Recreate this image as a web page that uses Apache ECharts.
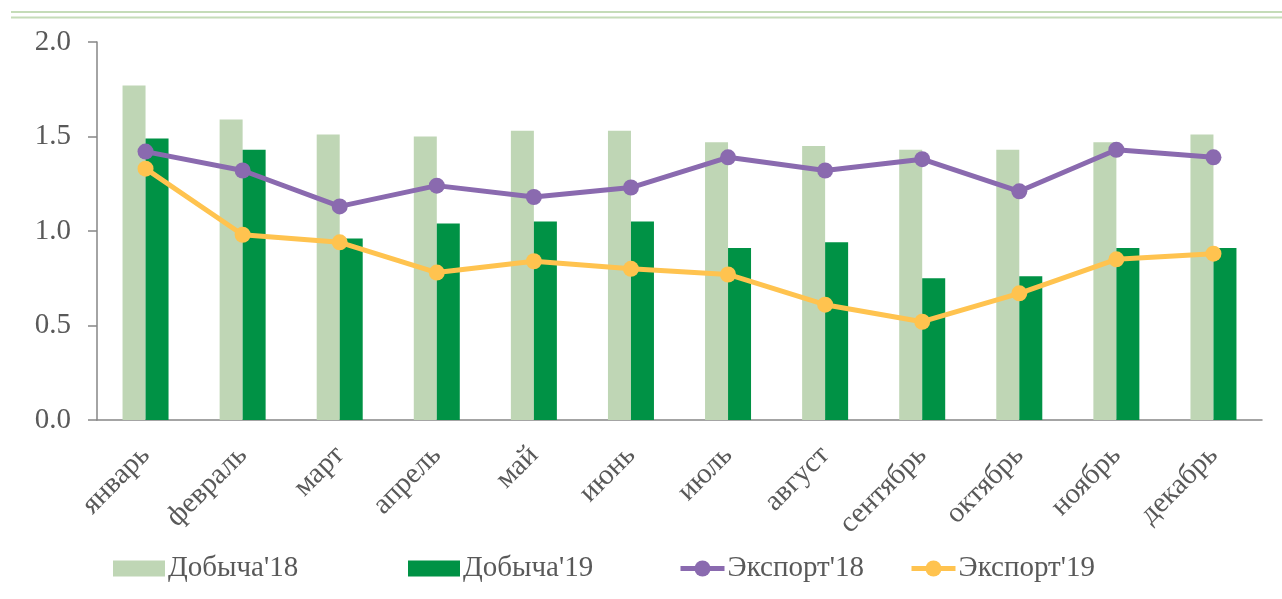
<!DOCTYPE html>
<html>
<head>
<meta charset="utf-8">
<script src="https://cdn.jsdelivr.net/npm/echarts@6/dist/echarts.min.js"></script>
<style>
  html, body { margin: 0; padding: 0; background: #fff; }
  #chart { width: 1282px; height: 599px; }
</style>
</head>
<body>
<div id="chart"></div>
<script>
var months = ['январь', 'февраль', 'март', 'апрель', 'май', 'июнь', 'июль', 'август', 'сентябрь', 'октябрь', 'ноябрь', 'декабрь'];
var dobycha18 = [1.77, 1.59, 1.51, 1.50, 1.53, 1.53, 1.47, 1.45, 1.43, 1.43, 1.47, 1.51];
var dobycha19 = [1.49, 1.43, 0.96, 1.04, 1.05, 1.05, 0.91, 0.94, 0.75, 0.76, 0.91, 0.91];
var export18 = [1.42, 1.32, 1.13, 1.24, 1.18, 1.23, 1.39, 1.32, 1.38, 1.21, 1.43, 1.39];
var export19 = [1.33, 0.98, 0.94, 0.78, 0.84, 0.80, 0.77, 0.61, 0.52, 0.67, 0.85, 0.88];
var yTicks = [0, 0.5, 1.0, 1.5, 2.0];

var font = 'Liberation Serif';
var txt = '#595959';
var axisGray = '#868686';
var purple = '#8a6aaf';
var yellow = '#ffc34f';

var chart = echarts.init(document.getElementById('chart'));

// one legend per item so each can sit where the original has it
function leg(name, left, w, h, icon, lineW) {
    var l = {
        data: [{ name: name, icon: icon }], left: left, top: 549, itemWidth: w, itemHeight: h, itemGap: 0,
        textStyle: { fontFamily: font, fontSize: 29, color: txt, padding: [0, 0, 0, -2] }
    };
    if (lineW) l.lineStyle = { width: lineW };
    return l;
}

var option = {
    animation: false,
    grid: { left: 97, right: 20, top: 42, bottom: 179 },
    graphic: [
        { type: 'line', shape: { x1: 11, y1: 12, x2: 1282, y2: 12 }, style: { stroke: '#c5dcb8', lineWidth: 2 } },
        { type: 'line', shape: { x1: 11, y1: 17.5, x2: 1282, y2: 17.5 }, style: { stroke: '#c5dcb8', lineWidth: 2 } }
    ],
    legend: [
        leg("Добыча'18", 108, 52, 16, 'rect'),
        leg("Добыча'19", 403, 52, 16, 'rect'),
        leg("Экспорт'18", 673, 44, 20, undefined, 5),
        leg("Экспорт'19", 904, 44, 20, undefined, 5)
    ],
    xAxis: {
        type: 'category',
        data: months,
        axisLine: { lineStyle: { color: axisGray, width: 1.5 } },
        axisTick: { alignWithLabel: true, length: 7, lineStyle: { color: axisGray, width: 1.5 } },
        axisLabel: { rotate: 45, margin: 31, fontFamily: font, fontSize: 29, color: txt, interval: 0 }
    },
    yAxis: {
        type: 'value',
        min: yTicks[0],
        max: yTicks[yTicks.length - 1],
        interval: 0.5,
        splitLine: { show: false },
        axisLine: { show: true, lineStyle: { color: axisGray, width: 1.5 } },
        axisTick: { show: true, length: 9, lineStyle: { color: axisGray, width: 1.5 } },
        axisLabel: {
            margin: 26, fontFamily: font, fontSize: 29, color: txt,
            formatter: function (v) { return v.toFixed(1); }
        }
    },
    series: [
        { name: "Добыча'18", type: 'bar', data: dobycha18, barWidth: 23, barGap: '0%', itemStyle: { color: '#bfd6b5' } },
        { name: "Добыча'19", type: 'bar', data: dobycha19, barWidth: 23, itemStyle: { color: '#009245' } },
        {
            name: "Экспорт'18", type: 'line', data: export18, symbol: 'circle', symbolSize: 16,
            lineStyle: { color: purple, width: 5 }, itemStyle: { color: purple }
        },
        {
            name: "Экспорт'19", type: 'line', data: export19, symbol: 'circle', symbolSize: 16,
            lineStyle: { color: yellow, width: 5 }, itemStyle: { color: yellow }
        }
    ]
};

chart.setOption(option);
</script>
</body>
</html>
